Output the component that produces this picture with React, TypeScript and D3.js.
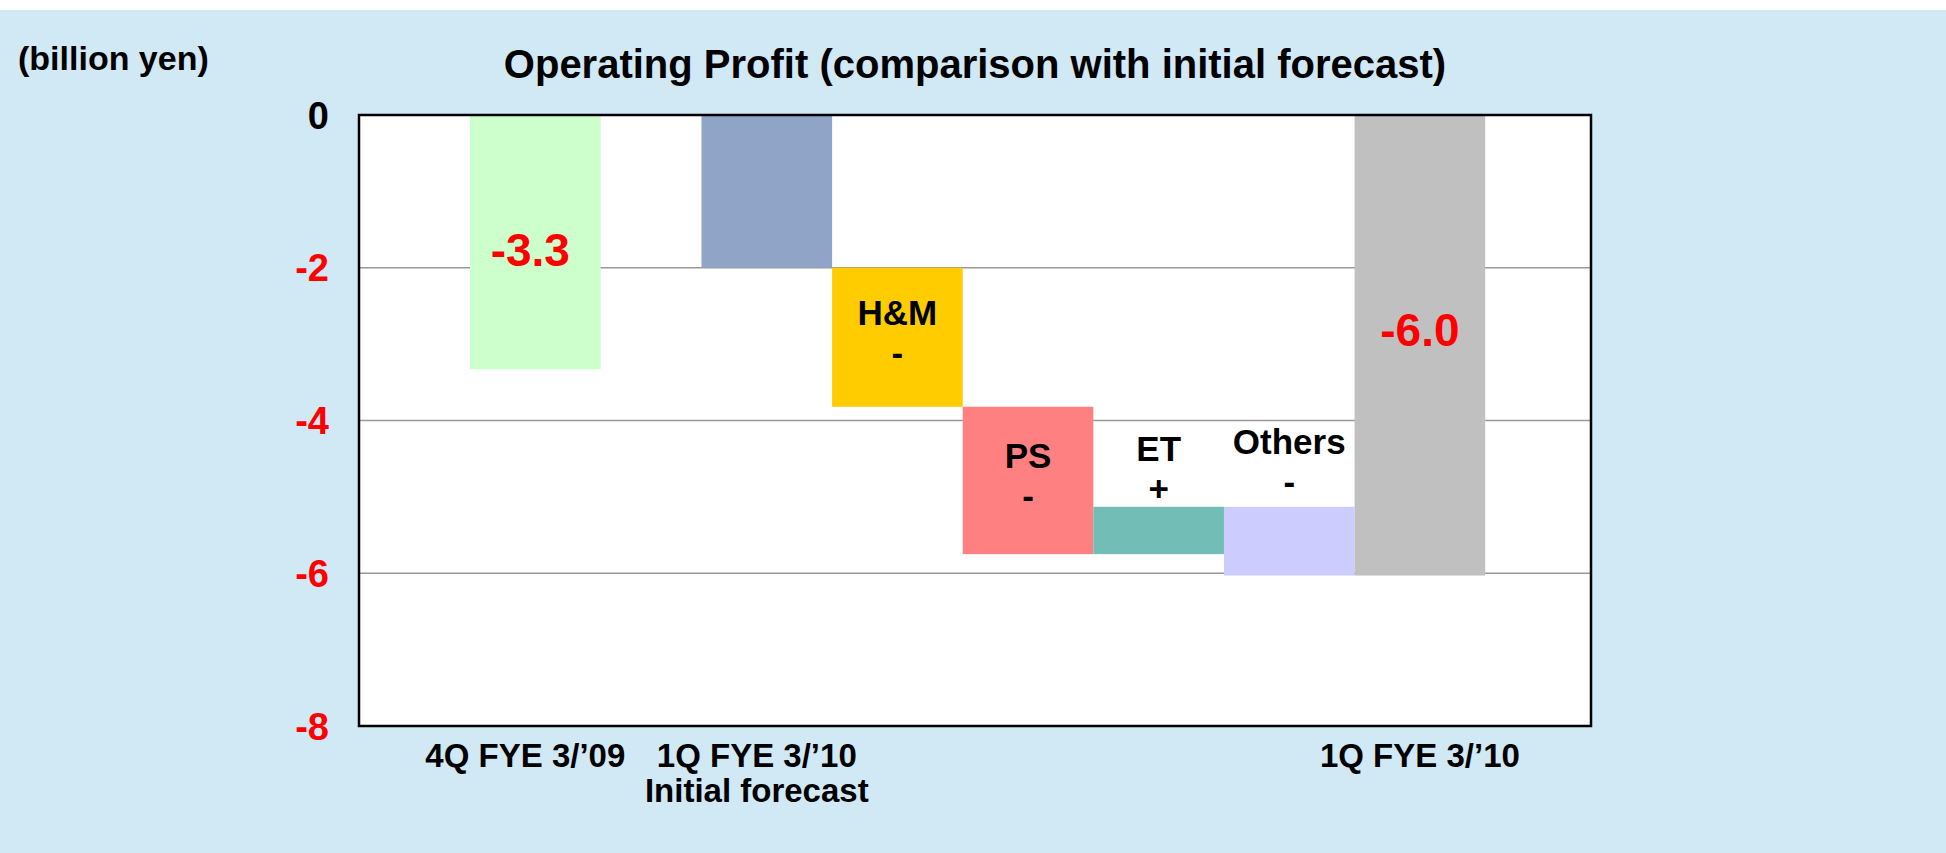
import * as d3 from 'd3';

// Values in billion yen
const previousQuarter = -3.33;
const initialForecast = -2.0;
const stepNames = ['H&M', 'PS', 'ET', 'Others'];
const stepSigns = ['-', '-', '+', '-'];
const stepDeltas = [-1.82, -1.93, 0.62, -0.9];
const actualResult = -6.03;

const totalLabels = ['-3.3', '-6.0'];
const axisLabels = [['4Q FYE 3/’09'], ['1Q FYE 3/’10', 'Initial forecast'], [], [], [], [], ['1Q FYE 3/’10']];
const yTicks = [0, -2, -4, -6, -8];

const barColors = ['#CCFFCC', '#8FA4C6', '#FFCC00', '#FF8080', '#72BEB7', '#CCCCFF', '#C0C0C0'];

const W = 1946;
const H = 853;
const margin = { top: 115, right: 355, bottom: 127, left: 359 };
const GROUP_GAP = 0.772; // space between the previous-quarter bar and the waterfall
const PAD_LEFT = 0.85;
const PAD_RIGHT = 0.81;
const FONT = '"Liberation Sans", Arial, Helvetica, sans-serif';

type Bar = { i: number; from: number; to: number; color: string };

export default function App() {
  const innerW = W - margin.left - margin.right;
  const innerH = H - margin.top - margin.bottom;

  // build waterfall segments
  const bars: Bar[] = [];
  bars.push({ i: 0, from: 0, to: previousQuarter, color: barColors[0] });
  bars.push({ i: 1, from: 0, to: initialForecast, color: barColors[1] });
  let running = initialForecast;
  stepDeltas.forEach((d, k) => {
    bars.push({ i: k + 2, from: running, to: running + d, color: barColors[k + 2] });
    running += d;
  });
  bars.push({ i: 6, from: 0, to: actualResult, color: barColors[6] });

  const slot = (i: number) => i + (i > 0 ? GROUP_GAP : 0);
  const x = d3.scaleLinear()
    .domain([-PAD_LEFT, slot(6) + 1 + PAD_RIGHT])
    .range([margin.left, margin.left + innerW]);
  const bw = x(1) - x(0);

  const y = d3.scaleLinear().domain([-8, 0]).range([margin.top + innerH, margin.top]);

  return (
    <>
      <style>{'body{margin:0}'}</style>
      <svg width={W} height={H} style={{ display: 'block', fontFamily: FONT }}>
        <rect x={0} y={0} width={W} height={H} fill="#ffffff" />
        <rect x={0} y={10} width={W} height={H - 10} fill="#D1E8F5" />

        {/* plot area */}
        <rect x={margin.left} y={margin.top} width={innerW} height={innerH} fill="#ffffff" />
        {yTicks.filter(t => t !== 0 && t !== -8).map(t => (
          <line key={t} x1={margin.left} x2={margin.left + innerW} y1={y(t)} y2={y(t)}
            stroke="#999999" strokeWidth={1.5} />
        ))}

        {bars.map(b => (
          <rect key={b.i} x={x(slot(b.i))} width={bw}
            y={y(Math.max(b.from, b.to))} height={Math.abs(y(b.to) - y(b.from))}
            fill={b.color} />
        ))}

        <rect x={margin.left} y={margin.top} width={innerW} height={innerH}
          fill="none" stroke="#000000" strokeWidth={2.5} />

        {/* total value labels */}
        {[bars[0], bars[6]].map((b, k) => {
          const mid = (y(b.from) + y(b.to)) / 2;
          const nudge = k === 0 ? 7 : -16;
          return (
            <text key={k} x={x(slot(b.i)) + bw / 2 - (k === 0 ? 5 : 0)} y={mid + nudge}
              dy="0.36em" textAnchor="middle" fill="#FF0000"
              fontSize={46} fontWeight="bold">{totalLabels[k]}</text>
          );
        })}

        {/* step labels */}
        {stepNames.map((name, k) => {
          const b = bars[k + 2];
          const top = y(Math.max(b.from, b.to));
          const bottom = y(Math.min(b.from, b.to));
          const cx = x(slot(b.i)) + bw / 2;
          const inside = bottom - top > 100;
          const line1 = inside ? (top + bottom) / 2 - 12 : top - 46 - (b.to < b.from ? 7 : 0);
          return (
            <g key={name} fontSize={35} fontWeight="bold" fill="#000000" textAnchor="middle">
              <text x={cx} y={line1}>{name}</text>
              <text x={cx} y={line1 + 40}>{stepSigns[k]}</text>
            </g>
          );
        })}

        {/* y axis tick labels */}
        {yTicks.map(t => (
          <text key={t} x={margin.left - 30} y={y(t)} dy="0.36em" textAnchor="end"
            fontSize={38} fontWeight="bold" fill={t === 0 ? '#000000' : '#FF0000'}>
            {t}
          </text>
        ))}

        {/* category labels */}
        {axisLabels.map((lines, i) => (
          <text key={i} x={x(slot(i)) + bw / 2 - (i < 2 ? 10 : 0)} y={767}
            textAnchor="middle" fontSize={33} fontWeight="bold" fill="#000000">
            {lines.map((l, j) => (
              <tspan key={j} x={x(slot(i)) + bw / 2 - (i < 2 ? 10 : 0)} dy={j === 0 ? 0 : 35}>{l}</tspan>
            ))}
          </text>
        ))}

        <text x={(margin.left + margin.left + innerW) / 2} y={78} textAnchor="middle"
          fontSize={40} fontWeight="bold" fill="#000000">
          Operating Profit (comparison with initial forecast)
        </text>
        <text x={18} y={70} fontSize={34} fontWeight="bold" fill="#000000">(billion yen)</text>
      </svg>
    </>
  );
}
